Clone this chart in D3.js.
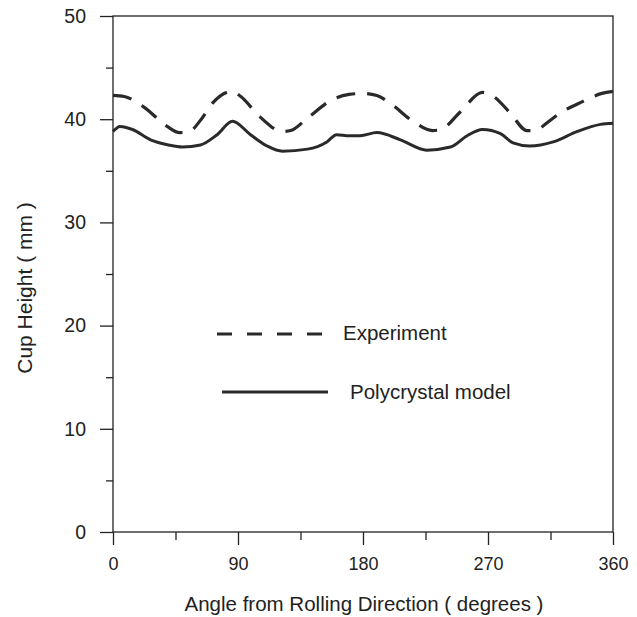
<!DOCTYPE html>
<html>
<head>
<meta charset="utf-8">
<script src="https://cdn.jsdelivr.net/npm/d3@7"></script>
<style>
  body { margin: 0; background: #fff; }
  svg text { font-family: "Liberation Sans", Arial, sans-serif; fill: #222; }
</style>
</head>
<body>
<div id="chart"></div>
<script>
// cup height vs angle from rolling direction
var expAngles = [0, 8, 22, 39, 48, 55, 63, 72, 86, 92, 106, 122, 128, 140, 158, 170, 180, 190, 199, 216, 230, 236, 250, 266, 274, 286, 298, 304, 312, 322, 338, 352, 360];
var expHeight = [42.3, 42.2, 41.2, 39.3, 38.7, 38.8, 39.9, 41.6, 42.7, 42.2, 40.2, 38.8, 38.9, 40.1, 41.9, 42.4, 42.5, 42.3, 41.6, 39.8, 38.9, 39.0, 40.7, 42.6, 42.2, 40.6, 38.9, 38.9, 39.6, 40.6, 41.7, 42.5, 42.7];

var modelAngles = [0, 5, 14, 27, 40, 50, 63, 75, 86, 99, 111, 122, 140, 154, 161, 170, 178, 190, 207, 226, 243, 255, 266, 279, 288, 300, 317, 334, 351, 360];
var modelHeight = [38.8, 39.3, 39.0, 38.0, 37.5, 37.3, 37.5, 38.5, 39.8, 38.5, 37.4, 36.9, 37.1, 37.8, 38.5, 38.4, 38.4, 38.7, 38.0, 37.0, 37.3, 38.4, 39.0, 38.6, 37.7, 37.4, 37.8, 38.8, 39.5, 39.6];

var xMajor = [0, 90, 180, 270, 360];
var xMinor = [45, 135, 225, 315];
var yMajor = [0, 10, 20, 30, 40, 50];
var yMinor = [5, 15, 25, 35, 45];

var legendNames = ["Experiment", "Polycrystal model"];

var W = 637, H = 617;
var mLeft = 113, mRight = 613, mTop = 16, mBottom = 532;

var svg = d3.select("#chart").append("svg")
    .attr("width", W).attr("height", H);

var x = d3.scaleLinear().domain([0, 360]).range([mLeft, mRight]);
var y = d3.scaleLinear().domain([0, 50]).range([mBottom, mTop]);

var ink = "#222";

// frame
svg.append("rect")
    .attr("x", mLeft).attr("y", mTop)
    .attr("width", mRight - mLeft).attr("height", mBottom - mTop)
    .attr("fill", "none").attr("stroke", ink).attr("stroke-width", 1.3);

// x axis, major + minor ticks
var xg = svg.append("g").attr("transform", "translate(0," + mBottom + ")")
    .call(d3.axisBottom(x).tickValues(xMajor).tickSize(13).tickPadding(12).tickFormat(d3.format("d")));
svg.append("g").attr("transform", "translate(0," + mBottom + ")")
    .call(d3.axisBottom(x).tickValues(xMinor).tickSize(8).tickFormat(""));

var yg = svg.append("g").attr("transform", "translate(" + mLeft + ",0)")
    .call(d3.axisLeft(y).tickValues(yMajor).tickSize(13).tickPadding(14).tickFormat(d3.format("d")));
svg.append("g").attr("transform", "translate(" + mLeft + ",0)")
    .call(d3.axisLeft(y).tickValues(yMinor).tickSize(7).tickFormat(""));

svg.selectAll(".domain").remove();
svg.selectAll(".tick line").attr("stroke", ink).attr("stroke-width", 1.3);
xg.selectAll(".tick text").style("font-size", "18px").attr("fill", ink);
yg.selectAll(".tick text").style("font-size", "19.5px").attr("fill", ink);

// axis titles
svg.append("text")
    .attr("x", 364).attr("y", 611)
    .attr("text-anchor", "middle")
    .style("font-size", "20.5px")
    .text("Angle from Rolling Direction ( degrees )");

svg.append("text")
    .attr("transform", "translate(32,288) rotate(-90)")
    .attr("text-anchor", "middle")
    .style("font-size", "21px")
    .text("Cup Height ( mm )");

// curves
var line = d3.line()
    .x(function(d){ return x(d[0]); })
    .y(function(d){ return y(d[1]); })
    .curve(d3.curveMonotoneX);

var expData = expAngles.map(function(a, i){ return [a, expHeight[i]]; });
var modelData = modelAngles.map(function(a, i){ return [a, modelHeight[i]]; });

svg.append("path").datum(expData)
    .attr("d", line)
    .attr("fill", "none").attr("stroke", "#2a2a2a")
    .attr("stroke-width", 3.2)
    .attr("stroke-dasharray", "19,12");

svg.append("path").datum(modelData)
    .attr("d", line)
    .attr("fill", "none").attr("stroke", "#2a2a2a")
    .attr("stroke-width", 3);

// legend
var legend = svg.append("g");
legend.append("line")
    .attr("x1", 217).attr("x2", 322).attr("y1", 334).attr("y2", 334)
    .attr("stroke", "#2a2a2a").attr("stroke-width", 3.2)
    .attr("stroke-dasharray", "15,15");
legend.append("text")
    .attr("x", 343).attr("y", 340)
    .style("font-size", "20.5px")
    .text(legendNames[0]);
legend.append("line")
    .attr("x1", 222).attr("x2", 328).attr("y1", 392).attr("y2", 392)
    .attr("stroke", "#2a2a2a").attr("stroke-width", 3);
legend.append("text")
    .attr("x", 350).attr("y", 399)
    .style("font-size", "20.5px")
    .text(legendNames[1]);
</script>
</body>
</html>
